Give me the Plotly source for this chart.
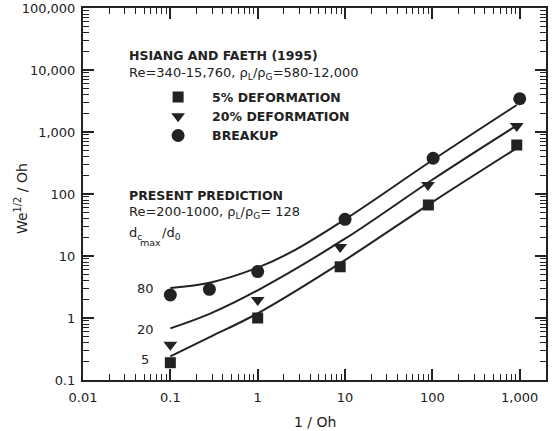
import plotly.graph_objects as go
import math

# Hsiang & Faeth (1995) measurements
sq_x = [0.1, 1, 8.8, 90, 925]
sq_y = [0.19, 1.0, 6.7, 66.5, 617]
tri_x = [0.1, 1, 8.8, 89, 925]
tri_y = [0.37, 1.95, 14, 140, 1250]
circ_x = [0.1, 0.28, 1, 10, 102, 1000]
circ_y = [2.35, 2.9, 5.6, 39, 377, 3440]

# present prediction curves (dcmax/d0 = 5, 20, 80)
c5_x = [0.1, 0.29, 1, 10, 100, 880]
c5_y = [0.24, 0.5, 1.19, 8.6, 74, 525]
c20_x = [0.1, 0.29, 1, 10, 100, 880]
c20_y = [0.68, 1.19, 2.8, 19, 170, 1220]
c80_x = [0.1, 0.29, 1, 2.4, 10, 100, 925]
c80_y = [3.05, 3.75, 6.5, 11.5, 39, 350, 2725]

x_tickvals = [0.01, 0.1, 1, 10, 100, 1000]
x_ticktext = ["0.01", "0.1", "1", "10", "100", "1,000"]
y_tickvals = [0.1, 1, 10, 100, 1000, 10000, 100000]
y_ticktext = ["0.1", "1", "10", "100", "1,000", "10,000", "100,000"]

X_MAX = 2000
x_minor = [m * 10 ** e for e in range(-2, 4) for m in range(2, 10) if m * 10 ** e <= X_MAX]
y_minor = [m * 10 ** e for e in range(-1, 5) for m in range(2, 10)]

INK = "#222222"
FONT = "DejaVu Sans, Liberation Sans, Arial, sans-serif"

fig = go.Figure()
line_style = dict(color=INK, width=2, shape="spline")
for cx, cy in [(c5_x, c5_y), (c20_x, c20_y), (c80_x, c80_y)]:
    fig.add_trace(go.Scatter(x=cx, y=cy, mode="lines", line=line_style,
                             showlegend=False, hoverinfo="skip"))

fig.add_trace(go.Scatter(x=sq_x, y=sq_y, mode="markers", name="<b>5% DEFORMATION</b>",
                         marker=dict(symbol="square", size=11, color=INK)))
fig.add_trace(go.Scatter(x=tri_x, y=tri_y, mode="markers", name="<b>20% DEFORMATION</b>",
                         marker=dict(symbol="triangle-down", size=12, color=INK)))
fig.add_trace(go.Scatter(x=circ_x, y=circ_y, mode="markers", name="<b>BREAKUP</b>",
                         marker=dict(symbol="circle", size=13, color=INK)))

axis_common = dict(
    type="log", showgrid=False, zeroline=False, automargin=False,
    showline=True, linecolor=INK, linewidth=2, mirror="allticks",
    ticks="inside", ticklen=11, tickwidth=1.5, tickcolor=INK,
    tickfont=dict(family=FONT, size=13, color=INK),
)

fig.update_xaxes(**axis_common, range=[-2, math.log10(X_MAX)],
                 tickmode="array", tickvals=x_tickvals, ticktext=x_ticktext,
                 ticklabelstandoff=4,
                 minor=dict(tickmode="array", tickvals=x_minor, ticks="inside",
                            ticklen=6, tickwidth=1.2, tickcolor=INK, showgrid=False))
fig.update_yaxes(**axis_common, range=[-1, 5],
                 tickmode="array", tickvals=y_tickvals, ticktext=y_ticktext,
                 ticklabelstandoff=3,
                 minor=dict(tickmode="array", tickvals=y_minor, ticks="inside",
                            ticklen=6, tickwidth=1.2, tickcolor=INK, showgrid=False))

def ann(text, x, y, size=13, xanchor="left", angle=0):
    fig.add_annotation(text=text, x=x, y=y, xref="paper", yref="paper",
                       xanchor=xanchor, yanchor="middle", showarrow=False,
                       textangle=angle,
                       font=dict(family=FONT, size=size, color=INK))

# axis titles
ann("1 / Oh", 0.5, -0.113, size=14, xanchor="center")
ann("We<sup>1/2</sup> / Oh", -0.134, 0.489, size=14, xanchor="center", angle=-90)

ann("<b>HSIANG AND FAETH (1995)</b>", 0.095, 0.871, size=12.5)
ann("Re=340-15,760, ρ<sub>L</sub>/ρ<sub>G</sub>=580-12,000", 0.095, 0.825)
ann("<b>PRESENT PREDICTION</b>", 0.095, 0.497, size=12.5)
ann("Re=200-1000, ρ<sub>L</sub>/ρ<sub>G</sub>= 128", 0.095, 0.449)
ann("d<sub>c</sub>", 0.095, 0.395)
ann("max", 0.118, 0.369, size=9.5)
ann("/d<sub>0</sub>", 0.167, 0.395)
ann("80", 0.134, 0.245, xanchor="center")
ann("20", 0.134, 0.137, xanchor="center")
ann("5", 0.134, 0.054, xanchor="center")

fig.update_layout(
    width=553, height=431,
    margin=dict(l=83, r=7, t=8, b=51),
    paper_bgcolor="white", plot_bgcolor="white",
    font=dict(family=FONT, color=INK),
    legend=dict(x=0.132, y=0.800, xanchor="left", yanchor="top",
                bgcolor="rgba(0,0,0,0)", font=dict(family=FONT, size=12.5, color=INK),
                itemwidth=58, tracegroupgap=0),
)

fig.write_html("out.html", config={"displayModeBar": False},
               post_script="document.body.style.margin='0';document.body.style.overflow='hidden';")
